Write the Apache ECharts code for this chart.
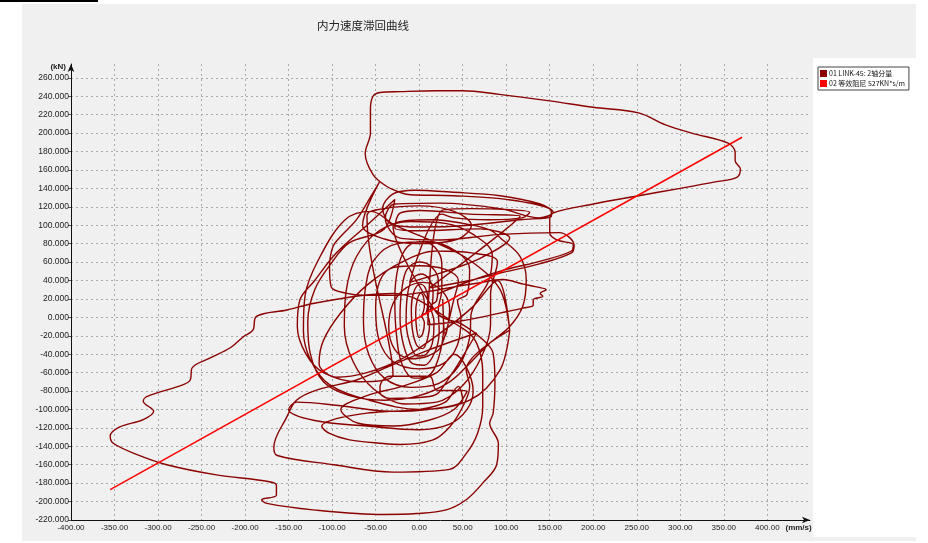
<!DOCTYPE html>
<html>
<head>
<meta charset="utf-8">
<script src="https://cdn.jsdelivr.net/npm/echarts@6/dist/echarts.min.js"></script>
<style>
  html, body { margin: 0; padding: 0; background: #ffffff; }
  #chart { width: 928px; height: 543px; }
</style>
</head>
<body>
<div id="chart"></div>
<script>
// Force (kN) versus velocity (mm/s) hysteresis of LINK-45, axial component.
const chartTitle = '内力速度滞回曲线';
const seriesNames = ['01 LINK-45: 2轴分量', '02 等效阻尼 527KN*s/m'];
const xUnit = '(mm/s)';
const yUnit = '(kN)';

// Equivalent damping line: coefficient in kN*s/m, drawn between two velocities.
const dampingCoeff = 527;
const dampVelocities = [-355, 371];

// Hysteresis path pieces, [velocity, force]
const loopC1 = [[2,0],[6,12],[5,22],[2,26],[-2,20],[-4,5],[-3,-12],[0,-22],[4,-18],[6,-6],[3,2]];
const loopC2 = [[8,5],[10,20],[7,32],[1,36],[-6,28],[-9,10],[-8,-12],[-3,-30],[4,-34],[10,-22],[12,-6],[9,6]];
const loopC3 = [[14,10],[16,28],[11,42],[2,47],[-9,40],[-14,20],[-15,-5],[-10,-30],[-2,-42],[8,-40],[16,-24],[17,-4],[13,12]];
const loopC4 = [[20,18],[22,40],[14,55],[0,60],[-14,52],[-20,30],[-22,0],[-18,-30],[-8,-50],[6,-52],[18,-38],[23,-15],[22,8]];
const loopC5 = [[26,30],[26,58],[18,76],[2,82],[-14,76],[-24,55],[-28,20],[-26,-20],[-20,-50],[-6,-66],[10,-64],[22,-45],[28,-10],[27,20]];
const loopC6 = [[30,-20],[35,10],[25,30],[5,38],[-15,32],[-30,15],[-35,-10],[-28,-35],[-10,-45],[10,-42],[25,-32]];
const loopM1 = [[40,20],[45,40],[30,52],[0,56],[-30,54],[-45,40],[-50,10],[-46,-25],[-30,-48],[0,-56],[28,-50],[44,-30],[48,0],[44,18]];
const loopM2 = [[55,25],[58,52],[42,72],[10,82],[-25,80],[-52,62],[-62,30],[-64,-5],[-58,-40],[-40,-66],[-10,-76],[22,-72],[46,-52],[58,-22],[60,5]];
const loopM3 = [[80,40],[84,68],[62,90],[30,102],[-10,104],[-46,94],[-72,66],[-84,28],[-86,-10],[-76,-48],[-52,-78],[-16,-94],[20,-92],[50,-74],[72,-42],[82,-8],[82,25]];
const loopM4 = [[104,-14],[93,30],[58,62],[12,84],[-28,100],[-55,115],[-85,106],[-116,62],[-131,24],[-133,-14],[-125,-46],[-103,-73],[-57,-90],[1,-100],[58,-90],[93,-57],[104,-14]];
const loopM7 = [[90,60],[60,70],[20,72],[-20,60],[-60,35],[-90,5],[-110,-25],[-115,-50],[-95,-65],[-60,-60],[-20,-45],[20,-20],[60,10],[90,40]];
const loopM8 = [[-28,128],[-60,100],[-95,70],[-120,40],[-137,19],[-140,-10],[-130,-40],[-110,-60],[-70,-70],[-30,-62]];
const loopM9 = [[-60,110],[-40,118],[0,121],[40,115],[60,100],[45,85],[0,80],[-40,85],[-65,100]];
const loopB3 = [[54,-57],[58,-75],[50,-97],[35,-119],[16,-133],[-22,-138],[-41,-137],[-80,-133],[-103,-126],[-112,-118],[-95,-110],[-60,-104],[-34,-102],[0,-100],[30,-92],[45,-75]];
const loopB5 = [[50,-90],[10,-100],[-34,-102],[-90,-96],[-141,-92],[-150,-100],[-120,-112],[-60,-118],[0,-122],[35,-116],[55,-100],[62,-80]];
const loopB6 = [[40,-40],[20,-60],[-20,-75],[-60,-85],[-90,-100],[-70,-115],[-30,-118],[10,-112],[40,-100],[55,-80]];
const loopB4 = [[20,-79],[12,-64],[-34,-64],[-45,-75],[-45,-82],[-34,-88],[12,-86],[24,-80]];
const loopB2 = [[66,-17],[12,-35],[-34,-53],[-72,-68],[-118,-79],[-141,-90],[-152,-108],[-167,-141],[-163,-150],[-98,-160],[-30,-168],[35,-165],[54,-148],[67,-126],[73,-97],[73,-60],[66,-28],[50,-12]];
const loopTail = [[-30,26],[-64,24],[-122,15],[-152,8],[-187,1],[-191,-14],[-202,-21],[-217,-33],[-240,-44],[-261,-55],[-263,-68],[-271,-73],[-313,-86],[-317,-91],[-305,-102],[-317,-111],[-344,-119],[-355,-129],[-351,-137],[-324,-149],[-290,-160],[-233,-171],[-175,-178],[-164,-182],[-164,-193],[-181,-198],[-175,-202],[-122,-209],[-41,-214],[-3,-213],[31,-209],[54,-198],[73,-180],[89,-160],[91,-137],[81,-115],[85,-104],[87,-71],[85,-39],[73,-24],[50,-8],[20,5]];
const loopM6 = [[-30,99],[16,106],[50,102],[81,95],[96,84],[116,66],[123,41],[119,12],[104,-10],[81,-28],[58,-50],[35,-70],[0,-85],[-40,-90],[-80,-85],[-110,-70],[-125,-40],[-128,-5],[-120,30],[-100,60],[-80,81],[-40,96]];
const loopM5 = [[-45,148],[-55,132],[-72,106],[-90,88],[-99,77],[-103,55],[-101,33],[-83,26],[-64,24],[-30,24],[10,28],[40,33],[66,37],[96,41],[120,36],[135,33],[146,30],[139,26],[142,23],[131,19],[131,13],[119,10],[100,6],[70,0],[40,-5],[10,-8]];
const loopU4 = [[26,116],[60,118],[100,117],[127,114],[118,108],[80,106],[40,108],[26,112]];
const loopU3 = [[-11,38],[24,48],[70,64],[104,86],[70,96],[1,94],[-28,97],[-22,113],[1,116],[58,112],[116,110]];
const loopU2 = [[12,32],[58,40],[93,48],[138,58],[175,70],[178,78],[161,92],[93,90],[24,84],[-22,86],[-39,108],[-28,123],[24,124],[93,118],[138,108]];
const loopU1 = [[154,114],[139,123],[93,132],[36,136],[-5,138],[-30,134],[-42,118],[-31,101],[1,98],[58,100],[116,106],[152,110],[150,118],[100,128],[40,132],[-10,133],[-20,135]];
const loopTop = [[-37,142],[-53,155],[-62,178],[-56,200],[-56,226],[-53,240],[-45,244],[-22,245],[20,246],[50,246],[92,242],[150,235],[200,228],[252,222],[283,209],[313,200],[355,189],[363,179],[363,170],[369,161],[365,152],[340,147],[300,140],[252,132],[200,123],[153,113],[150,106],[150,92],[158,84],[177,79],[175,72],[135,60],[100,52],[60,40],[20,25]];

const hysteresis = [].concat(
  loopC1, loopC2, loopC3, loopC4, loopC5, loopC6, loopM1, loopM2, loopM3, loopM7, loopM4,
  loopB3, loopB5, loopB6, loopB4, loopB2, loopTail, loopM6, loopM8, loopM9, loopM5,
  loopU4, loopU3, loopU2, loopU1, loopTop
);

// kN*s/m equals N per mm/s, so the force in kN is coeff/1000 * velocity
const dampLine = dampVelocities.map(v => [v, dampingCoeff / 1000 * v]);

const chart = echarts.init(document.getElementById('chart'), null, { renderer: 'canvas' });

const gridLine = { show: true, lineStyle: { color: '#a9a9a9', type: [2, 3], width: 1 }, showMaxLine: false, showMinLine: false };
const axisText = { fontFamily: 'Liberation Sans, Arial, sans-serif', color: '#222' };

chart.setOption({
  animation: false,
  backgroundColor: '#ffffff',
  graphic: [
    { type: 'rect', z: -10, shape: { x: 22, y: 4, width: 894, height: 537 }, style: { fill: '#f0f0f0' } },
    { type: 'rect', z: -9, shape: { x: 813, y: 58, width: 103, height: 479 }, style: { fill: '#ffffff' } },
    { type: 'rect', z: -9, shape: { x: 0, y: 0, width: 98, height: 2 }, style: { fill: '#000000' } }
  ],
  title: {
    text: chartTitle,
    left: 312,
    top: 15,
    textStyle: { fontFamily: 'Noto Sans CJK SC', fontSize: 11.5, fontWeight: 'normal', color: '#222' }
  },
  legend: {
    orient: 'vertical',
    left: 818,
    top: 67,
    icon: 'rect',
    itemWidth: 7,
    itemHeight: 7,
    itemGap: 3,
    padding: [3, 4, 3, 2],
    backgroundColor: '#ffffff',
    borderColor: '#444',
    borderWidth: 1,
    borderRadius: 0,
    textStyle: { fontFamily: 'Noto Sans CJK SC', fontSize: 7, color: '#111', padding: [0, 0, 0, -3] },
    data: seriesNames
  },
  grid: {
    left: 71, top: 64, width: 739, height: 456,
    show: true, backgroundColor: '#f0f0f0', borderWidth: 0
  },
  xAxis: {
    type: 'value',
    min: -400, max: 449, interval: 50,
    name: xUnit,
    nameLocation: 'end',
    nameGap: 0,
    nameTextStyle: Object.assign({}, axisText, { fontSize: 8, fontWeight: 'bold', align: 'right', verticalAlign: 'top', padding: [4, 0, 0, 0] }),
    axisLine: { onZero: false, lineStyle: { color: '#111', width: 1 }, symbol: ['none', 'arrow'], symbolSize: [5, 8] },
    axisTick: { show: false },
    axisLabel: Object.assign({}, axisText, { fontSize: 8, margin: 4, showMaxLabel: false, formatter: v => v.toFixed(2) }),
    splitLine: gridLine
  },
  yAxis: {
    type: 'value',
    min: -220, max: 275, interval: 20,
    name: yUnit,
    nameLocation: 'end',
    nameGap: -3,
    nameTextStyle: Object.assign({}, axisText, { fontSize: 8, fontWeight: 'bold', align: 'right', verticalAlign: 'middle', padding: [0, 5, 0, 0] }),
    axisLine: { show: true, onZero: false, lineStyle: { color: '#111', width: 1 }, symbol: ['none', 'arrow'], symbolSize: [5, 8] },
    axisTick: { show: true, length: 3, lineStyle: { color: '#555' } },
    axisLabel: Object.assign({}, axisText, { fontSize: 8.5, margin: 2, showMaxLabel: false, formatter: v => v.toFixed(3) }),
    splitLine: gridLine
  },
  series: [
    {
      name: seriesNames[0],
      type: 'line',
      data: hysteresis,
      showSymbol: false,
      smooth: 0.35,
      lineStyle: { color: '#8b0000', width: 1.4 },
      itemStyle: { color: '#8b0000' },
      z: 2
    },
    {
      name: seriesNames[1],
      type: 'line',
      data: dampLine,
      showSymbol: false,
      lineStyle: { color: '#ff0000', width: 1.5 },
      itemStyle: { color: '#ff0000' },
      z: 3
    }
  ]
});
</script>
</body>
</html>
